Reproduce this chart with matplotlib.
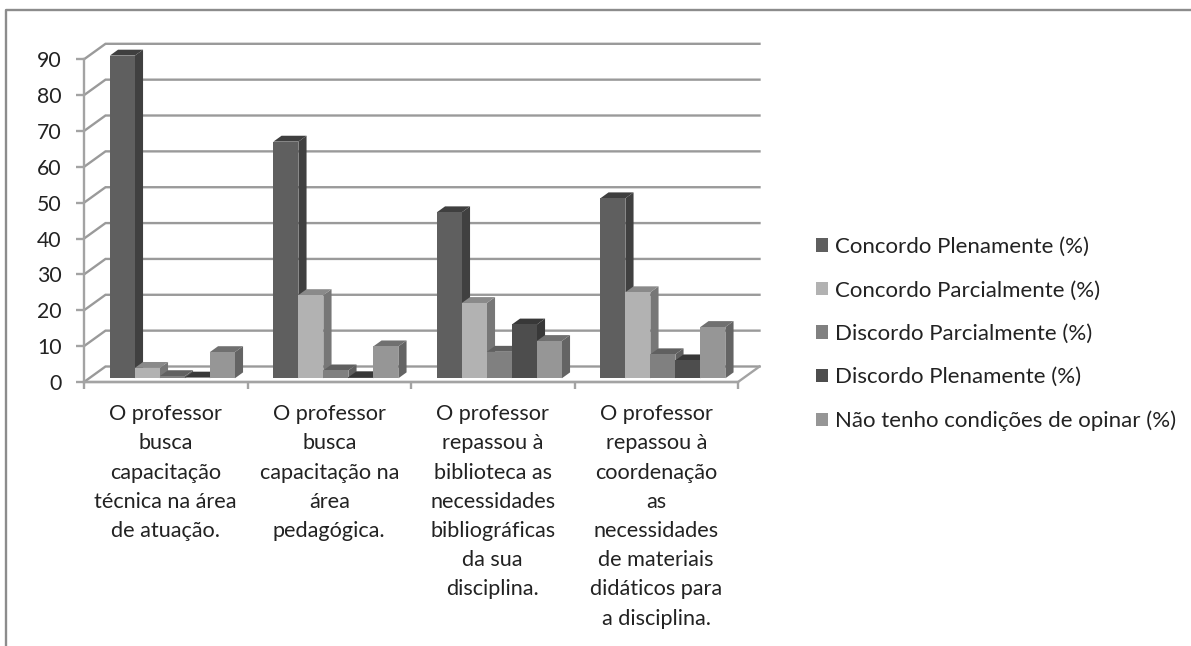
import matplotlib
matplotlib.use("Agg")
import matplotlib.pyplot as plt
from matplotlib.lines import Line2D
from matplotlib.patches import Patch

categories = [
    "O professor\nbusca\ncapacitação\ntécnica na área\nde atuação.",
    "O professor\nbusca\ncapacitação na\nárea\npedagógica.",
    "O professor\nrepassou à\nbiblioteca as\nnecessidades\nbibliográficas\nda sua\ndisciplina.",
    "O professor\nrepassou à\ncoordenação\nas\nnecessidades\nde materiais\ndidáticos para\na disciplina.",
]
concordo_plenamente = [90, 66, 46.3, 50.2]
concordo_parcialmente = [2.9, 23.2, 21, 24]
discordo_parcialmente = [0.6, 2.2, 7.4, 6.7]
discordo_plenamente = [0.2, 0.3, 15, 5]
sem_condicoes = [7.3, 8.9, 10.4, 14.3]
series_names = [
    "Concordo Plenamente (%)",
    "Concordo Parcialmente (%)",
    "Discordo Parcialmente (%)",
    "Discordo Plenamente (%)",
    "Não tenho condições de opinar (%)",
]
y_ticks = list(range(0, 100, 10))

series = [concordo_plenamente, concordo_parcialmente, discordo_parcialmente,
          discordo_plenamente, sem_condicoes]
front_cols = ["#5f5f5f", "#b2b2b2", "#808080", "#4d4d4d", "#969696"]
side_cols = ["#404040", "#777777", "#5f5f5f", "#383838", "#646464"]
top_cols = ["#3f3f3f", "#8a8a8a", "#606060", "#383838", "#707070"]
AX = "#a3a3a3"
GRID = "#9a9a9a"
TXT = "#222222"

W, H = 1191, 646
plt.rcParams["font.family"] = ["Lato", "DejaVu Sans"]
fig = plt.figure(figsize=(W / 100, H / 100), dpi=100, facecolor="white")
x0, x1, y0, y90 = 84, 738, 382, 59.3
ax = fig.add_axes([x0 / W, 1 - y0 / H, (x1 - x0) / W, (y0 - y90) / H])
ax.set_xlim(0, 4)
ax.set_ylim(0, 90)
ax.patch.set_alpha(0)

# depth of the 3D box in data units
DX = 21.5 / ((x1 - x0) / 4)
DY = 15.5 / ((y0 - y90) / 90)


def proj(x, y, d):
    return x + d * DX, y + d * DY


# walls
for v in y_ticks:
    a = proj(0, v, 0)
    b = proj(0, v, 1)
    c = proj(4, v, 1)
    ax.plot([a[0], b[0], c[0]], [a[1], b[1], c[1]], color=GRID, lw=1.7,
            clip_on=False, zorder=1, solid_joinstyle="miter")
fl = [proj(0, 0, 0), proj(4, 0, 0), proj(4, 0, 1)]
ax.plot([p[0] for p in fl], [p[1] for p in fl], color=AX, lw=1.7, clip_on=False, zorder=1)

# bars
bw = 25 / ((x1 - x0) / 4)
d0, d1 = 0.24, 0.62
for g in range(len(categories)):
    for s, vals in enumerate(series):
        v = vals[g]
        left = g + 0.509 + (s - 2.5) * bw
        right = left + bw
        z = 3 + g * 10 + s
        px, py = proj(left, 0, d0)
        ax.bar(px, v, width=bw, bottom=py, align="edge", color=front_cols[s],
               lw=0, clip_on=False, zorder=z + 0.3)
        side = [proj(right, 0, d0), proj(right, 0, d1), proj(right, v, d1), proj(right, v, d0)]
        ax.fill([p[0] for p in side], [p[1] for p in side], color=side_cols[s], lw=0,
                clip_on=False, zorder=z + 0.1)
        top = [proj(left, v, d0), proj(left, v, d1), proj(right, v, d1), proj(right, v, d0)]
        ax.fill([p[0] for p in top], [p[1] for p in top], color=top_cols[s], lw=0,
                clip_on=False, zorder=z + 0.2)

# axes
for name in ("top", "right"):
    ax.spines[name].set_visible(False)
for name in ("left", "bottom"):
    ax.spines[name].set_color(AX)
    ax.spines[name].set_linewidth(1.7)
    ax.spines[name].set_zorder(2)
ax.set_yticks(y_ticks)
ax.tick_params(axis="y", length=6, width=1.7, color=AX, labelsize=15.3, labelcolor=TXT, pad=10)
ax.set_xticks(range(5))
ax.set_xticklabels([])
ax.tick_params(axis="x", which="major", length=5, width=1.7, color=AX)
ax.set_xticks([g + 0.5 for g in range(len(categories))], minor=True)
ax.set_xticklabels(categories, minor=True, fontsize=15.6, color=TXT, linespacing=1.575)
ax.tick_params(axis="x", which="minor", length=0, pad=16)

# legend
handles = [Patch(facecolor=c, edgecolor="none") for c in front_cols]
fig.legend(handles, series_names, loc="upper left", bbox_to_anchor=(816 / W, 1 - 237 / H),
           frameon=False, fontsize=16.05, labelcolor=TXT, handlelength=0.54, handleheight=0.54,
           handletextpad=0.3, labelspacing=1.05, borderpad=0, borderaxespad=0)

# outer frame of the picture
fig.add_artist(Line2D([6 / W, 6 / W, 1], [0, 1 - 10 / H, 1 - 10 / H], color="#8c8c8c", lw=1.7,
                      transform=fig.transFigure))
fig.savefig("out.png", dpi=100)
